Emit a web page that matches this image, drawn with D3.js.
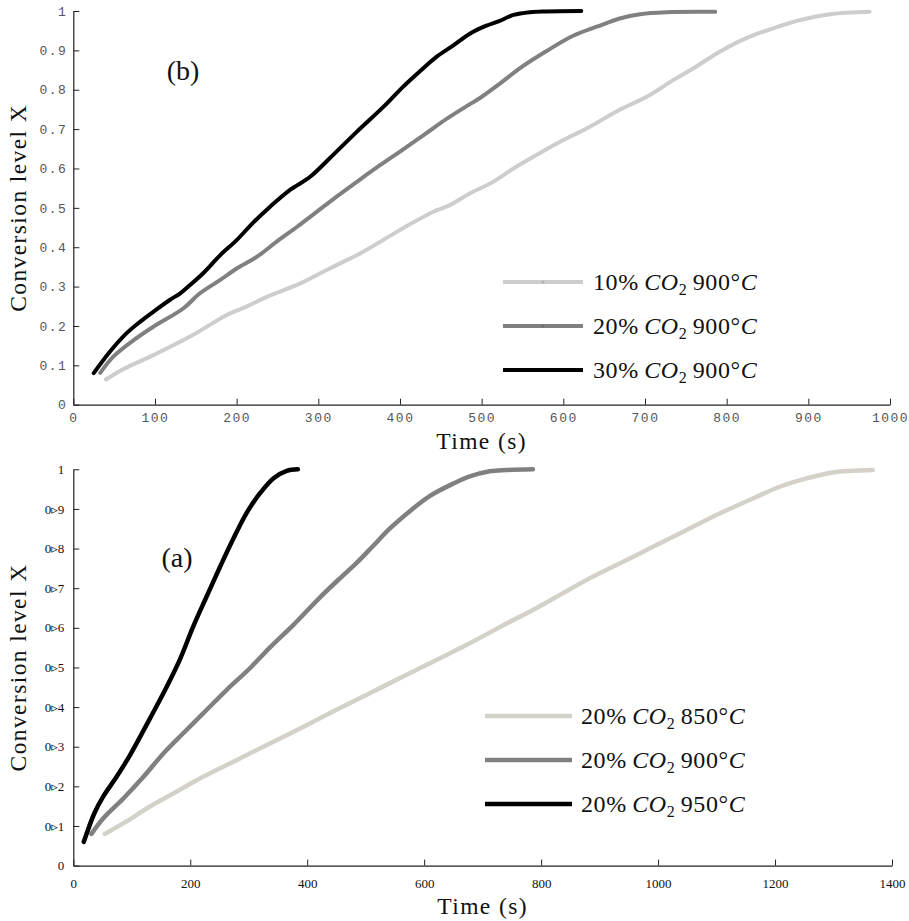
<!DOCTYPE html>
<html>
<head>
<meta charset="utf-8">
<script src="https://cdn.jsdelivr.net/npm/d3@7"></script>
<style>
  html, body { margin: 0; padding: 0; background: #fff; }
  svg { display: block; }
</style>
</head>
<body>
<svg id="chart" width="909" height="921"></svg>
<script>
// ---- Panel (b): effect of CO2 concentration at 900 °C ----
const bTime10 = [40, 61, 98, 143, 188, 212, 237, 278, 314, 351, 376, 400, 441, 461, 486, 514, 539, 567, 596, 629, 669, 702, 735, 759, 792, 824, 857, 890, 927, 975];
const bConv10 = [0.064, 0.090, 0.126, 0.173, 0.228, 0.249, 0.274, 0.308, 0.346, 0.384, 0.414, 0.444, 0.490, 0.507, 0.537, 0.566, 0.600, 0.634, 0.668, 0.702, 0.749, 0.782, 0.825, 0.854, 0.897, 0.931, 0.956, 0.977, 0.992, 0.998];
const bTime20 = [33, 49, 74, 98, 135, 155, 180, 200, 225, 249, 274, 298, 322, 351, 376, 400, 429, 457, 486, 498, 522, 547, 580, 612, 641, 669, 694, 726, 786];
const bConv20 = [0.081, 0.122, 0.164, 0.198, 0.245, 0.283, 0.317, 0.346, 0.376, 0.414, 0.452, 0.490, 0.528, 0.572, 0.609, 0.643, 0.685, 0.726, 0.764, 0.779, 0.815, 0.855, 0.899, 0.937, 0.960, 0.981, 0.992, 0.997, 0.998];
const bTime30 = [25, 45, 65, 82, 98, 118, 131, 143, 159, 180, 200, 220, 241, 265, 290, 314, 347, 380, 404, 425, 445, 465, 486, 505, 522, 539, 559, 579, 622];
const bConv30 = [0.080, 0.135, 0.181, 0.211, 0.236, 0.266, 0.283, 0.304, 0.334, 0.380, 0.418, 0.462, 0.503, 0.545, 0.579, 0.626, 0.693, 0.757, 0.808, 0.848, 0.884, 0.912, 0.943, 0.962, 0.975, 0.990, 0.997, 0.999, 1.0];

// ---- Panel (a): effect of temperature at 20 % CO2 ----
const aTime850 = [54, 86, 131, 177, 222, 279, 336, 393, 450, 507, 564, 621, 678, 741, 786, 832, 878, 935, 992, 1049, 1106, 1163, 1208, 1254, 1299, 1367];
const aConv850 = [0.080, 0.107, 0.149, 0.187, 0.224, 0.266, 0.308, 0.350, 0.393, 0.435, 0.477, 0.519, 0.561, 0.611, 0.645, 0.683, 0.721, 0.763, 0.805, 0.847, 0.889, 0.927, 0.956, 0.977, 0.992, 0.998];
const aTime900 = [31, 51, 86, 120, 154, 188, 222, 262, 302, 336, 376, 422, 456, 484, 513, 541, 576, 610, 650, 678, 712, 741, 786];
const aConv900 = [0.080, 0.119, 0.170, 0.224, 0.283, 0.334, 0.384, 0.443, 0.498, 0.550, 0.607, 0.677, 0.725, 0.763, 0.807, 0.850, 0.895, 0.933, 0.964, 0.982, 0.995, 0.998, 1.0];
const aTime950 = [18, 36, 51, 74, 97, 131, 160, 182, 205, 228, 251, 274, 296, 319, 342, 365, 384];
const aConv950 = [0.060, 0.132, 0.174, 0.224, 0.279, 0.371, 0.452, 0.519, 0.603, 0.679, 0.754, 0.826, 0.889, 0.939, 0.977, 0.996, 1.0];

// ---- Tick labels ----
const bXTicks = [0, 100, 200, 300, 400, 500, 600, 700, 800, 900, 1000];
const bYTicks = [0, 0.1, 0.2, 0.3, 0.4, 0.5, 0.6, 0.7, 0.8, 0.9, 1];
const bYTickLabels = ["0", "0.1", "0.2", "0.3", "0.4", "0.5", "0.6", "0.7", "0.8", "0.9", "1"];
const aXTicks = [0, 200, 400, 600, 800, 1000, 1200, 1400];
const aYTicks = [0, 0.1, 0.2, 0.3, 0.4, 0.5, 0.6, 0.7, 0.8, 0.9, 1];
const aYTickLabels = ["0", "0\u25B91", "0\u25B92", "0\u25B93", "0\u25B94", "0\u25B95", "0\u25B96", "0\u25B97", "0\u25B98", "0\u25B99", "1"];

// ---- Legend entries ----
const bLegendPct = ["10%", "20%", "30%"];
const bLegendTemp = ["900°", "900°", "900°"];
const aLegendPct = ["20%", "20%", "20%"];
const aLegendTemp = ["850°", "900°", "950°"];

const SERIF = "'Liberation Serif', 'DejaVu Serif', serif";
const MONO = "'Liberation Mono', 'DejaVu Sans Mono', monospace";

const svg = d3.select("#chart");

function zip(ts, xs) { return ts.map((t, i) => ({ t: t, x: xs[i] })); }

function drawPanel(cfg) {
  const g = svg.append("g");
  const x = d3.scaleLinear().domain(cfg.xDomain).range(cfg.xRange);
  const y = d3.scaleLinear().domain([0, 1]).range(cfg.yRange);

  // axes: ticks point into the plot
  const xAxis = d3.axisBottom(x).tickValues(cfg.xTicks).tickFormat(d3.format("d"))
    .tickSizeInner(-6).tickSizeOuter(0).tickPadding(cfg.xPad);
  const yAxis = d3.axisLeft(y).tickValues(cfg.yTicks)
    .tickFormat((d, i) => cfg.yLabels[i])
    .tickSizeInner(-6).tickSizeOuter(0).tickPadding(cfg.yPad);

  const gx = g.append("g").attr("transform", `translate(0,${cfg.yRange[0]})`).call(xAxis);
  const gy = g.append("g").attr("transform", `translate(${cfg.xRange[0]},0)`).call(yAxis);
  [gx, gy].forEach(a => {
    a.select(".domain").attr("stroke", "#222").attr("stroke-width", 1.2);
    a.selectAll(".tick line").attr("stroke", "#222").attr("stroke-width", 1);
    a.selectAll(".tick text")
      .attr("font-family", cfg.tickFont)
      .attr("font-size", cfg.tickSize)
      .attr("fill", cfg.tickColor)
      .attr("letter-spacing", cfg.tickSpacing);
  });

  // curves
  const line = d3.line().x(d => x(d.t)).y(d => y(d.x)).curve(d3.curveCatmullRom.alpha(0.5));
  cfg.series.forEach(s => {
    g.append("path")
      .datum(zip(s.t, s.v))
      .attr("fill", "none")
      .attr("stroke", s.color)
      .attr("stroke-width", cfg.lineWidth)
      .attr("stroke-linecap", "round")
      .attr("stroke-linejoin", "round")
      .attr("d", line);
  });

  // panel tag
  g.append("text").attr("x", cfg.tag.x).attr("y", cfg.tag.y)
    .attr("font-family", SERIF).attr("font-size", 28).attr("fill", "#111")
    .attr("text-anchor", "middle").text(cfg.tag.text);

  // axis titles
  g.append("text")
    .attr("transform", `translate(26,${(cfg.yRange[0] + cfg.yRange[1]) / 2}) rotate(-90)`)
    .attr("font-family", SERIF).attr("font-size", 23.5).attr("letter-spacing", "1.4px")
    .attr("fill", "#111").attr("text-anchor", "middle").text("Conversion level X");
  g.append("text")
    .attr("x", (cfg.xRange[0] + cfg.xRange[1]) / 2).attr("y", cfg.xTitleY)
    .attr("font-family", SERIF).attr("font-size", 23.5).attr("letter-spacing", "1.4px")
    .attr("fill", "#111").attr("text-anchor", "middle").text("Time (s)");

  // legend
  cfg.series.forEach((s, i) => {
    const ly = cfg.legend.y0 + i * cfg.legend.dy;
    const lg = g.append("g");
    lg.append("line")
      .attr("x1", cfg.legend.x1).attr("x2", cfg.legend.x2)
      .attr("y1", ly).attr("y2", ly)
      .attr("stroke", s.color).attr("stroke-width", cfg.lineWidth);
    if (cfg.legend.dot) {
      lg.append("circle")
        .attr("cx", (cfg.legend.x1 + cfg.legend.x2) / 2).attr("cy", ly).attr("r", 1.6)
        .attr("fill", d3.color(s.color).darker(0.4));
    }
    const t = lg.append("text")
      .attr("x", cfg.legend.tx).attr("y", ly + 8)
      .attr("font-family", SERIF).attr("font-size", 24).attr("letter-spacing", "0.6px")
      .attr("fill", "#111");
    t.append("tspan").text(s.pct + "\u2009");
    t.append("tspan").attr("font-style", "italic").text("CO");
    t.append("tspan").attr("font-size", 16).attr("dy", 5).text("2");
    t.append("tspan").attr("dy", -5).text("\u2009" + s.temp);
    t.append("tspan").attr("font-style", "italic").text("C");
  });
}

drawPanel({
  xDomain: [0, 1000], xRange: [73.3, 890], yRange: [404.7, 11],
  xTicks: bXTicks, yTicks: bYTicks, yLabels: bYTickLabels,
  tickFont: MONO, tickSize: 13, tickColor: "#555", tickSpacing: "1.5px",
  xPad: 8, yPad: 6, xTitleY: 449, lineWidth: 4,
  tag: { text: "(b)", x: 183, y: 80 },
  legend: { x1: 503, x2: 583, y0: 282, dy: 44, tx: 593, dot: true },
  series: [
    { t: bTime10, v: bConv10, color: "#cdcdcd", pct: bLegendPct[0], temp: bLegendTemp[0] },
    { t: bTime20, v: bConv20, color: "#808080", pct: bLegendPct[1], temp: bLegendTemp[1] },
    { t: bTime30, v: bConv30, color: "#000000", pct: bLegendPct[2], temp: bLegendTemp[2] }
  ]
});

drawPanel({
  xDomain: [0, 1400], xRange: [73.3, 892], yRange: [865.6, 469.3],
  xTicks: aXTicks, yTicks: aYTicks, yLabels: aYTickLabels,
  tickFont: SERIF, tickSize: 13, tickColor: "#111", tickSpacing: "0px",
  xPad: 13, yPad: 9, xTitleY: 914, lineWidth: 4.5,
  tag: { text: "(a)", x: 177, y: 567 },
  legend: { x1: 485, x2: 572, y0: 716, dy: 44, tx: 581, dot: false },
  series: [
    { t: aTime850, v: aConv850, color: "#d4d1c9", pct: aLegendPct[0], temp: aLegendTemp[0] },
    { t: aTime900, v: aConv900, color: "#808080", pct: aLegendPct[1], temp: aLegendTemp[1] },
    { t: aTime950, v: aConv950, color: "#000000", pct: aLegendPct[2], temp: aLegendTemp[2] }
  ]
});
</script>
</body>
</html>
